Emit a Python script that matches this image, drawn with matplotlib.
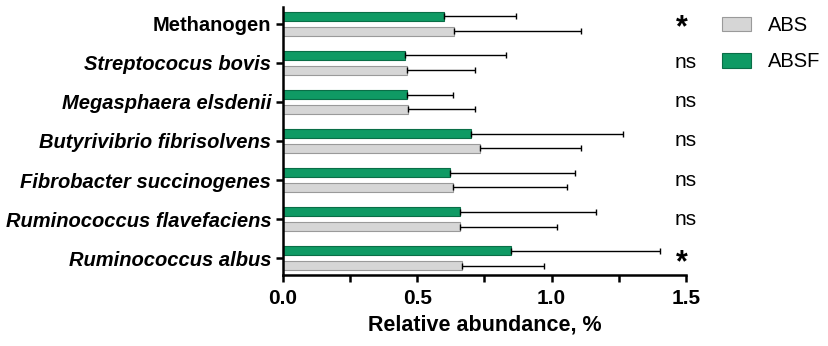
import matplotlib
matplotlib.use("Agg")
import matplotlib.pyplot as plt
import numpy as np
from matplotlib.ticker import MultipleLocator

plt.rcParams["font.family"] = ["Liberation Sans", "DejaVu Sans"]

taxa = ["Methanogen", "Streptococus bovis", "Megasphaera elsdenii",
        "Butyrivibrio fibrisolvens", "Fibrobacter succinogenes",
        "Ruminococcus flavefaciens", "Ruminococcus albus"]
abs_mean = [0.636, 0.460, 0.464, 0.735, 0.634, 0.657, 0.668]
abs_err = [0.474, 0.253, 0.252, 0.375, 0.423, 0.364, 0.303]
absf_mean = [0.600, 0.455, 0.460, 0.700, 0.623, 0.660, 0.847]
absf_err = [0.266, 0.375, 0.172, 0.566, 0.463, 0.504, 0.555]
signif = ["*", "ns", "ns", "ns", "ns", "ns", "*"]

GREY = "#d6d6d6"
GREEN = "#0f9a64"

fig = plt.figure(figsize=(8.29, 3.46), dpi=100)
ax = fig.add_axes([283 / 829, 1 - 275 / 346, 403 / 829, 268 / 346])

y = np.arange(len(taxa))
h = 0.24
off = 0.19
err_kw = dict(ecolor="black", elinewidth=1.0, capsize=2, capthick=1.0)
ax.barh(y + off, abs_mean, height=h, color=GREY, edgecolor="#9a9a9a",
        linewidth=0.8, label="ABS")
ax.errorbar(abs_mean, y + off, xerr=[np.zeros(len(taxa)), abs_err],
            fmt="none", **err_kw)
ax.barh(y - off, absf_mean, height=h, color=GREEN, edgecolor="#0a6e47",
        linewidth=0.8, label="ABSF")
ax.errorbar(absf_mean, y - off, xerr=[np.zeros(len(taxa)), absf_err],
            fmt="none", **err_kw)

for yi, s in zip(y, signif):
    if s == "*":
        ax.text(1.483, yi + 0.12, s, ha="center", va="center", fontsize=22,
                fontweight="bold", clip_on=False)
    else:
        ax.text(1.5, yi, s, ha="center", va="center", fontsize=15,
                clip_on=False)

ax.set_xlim(0, 1.5)
ax.set_ylim(len(taxa) - 1 + 0.43, -0.43)
ax.set_yticks(y)
ax.set_yticklabels(taxa, fontsize=14.5, fontweight="bold")
for lbl in ax.get_yticklabels():
    if lbl.get_text() != "Methanogen":
        lbl.set_fontstyle("italic")

ax.xaxis.set_minor_locator(MultipleLocator(0.25))
ax.set_xticks([0, 0.5, 1.0, 1.5])
ax.set_xticklabels(["0.0", "0.5", "1.0", "1.5"], fontsize=15,
                   fontweight="bold")
ax.set_xlabel("Relative abundance, %", fontsize=15.5, fontweight="bold",
              labelpad=5)

for side in ["top", "right"]:
    ax.spines[side].set_visible(False)
for side in ["left", "bottom"]:
    ax.spines[side].set_linewidth(1.8)
ax.tick_params(axis="both", which="both", direction="out", width=1.8,
               length=5)
ax.tick_params(axis="x", pad=5)

ax.legend(loc="upper left", bbox_to_anchor=(714 / 829, 1 - 8 / 346),
          bbox_transform=fig.transFigure, frameon=False, fontsize=14.5,
          handlelength=1.45, handleheight=0.75, labelspacing=0.85,
          handletextpad=0.85, borderpad=0.1, borderaxespad=0.3)

fig.savefig("out.png", dpi=100)
